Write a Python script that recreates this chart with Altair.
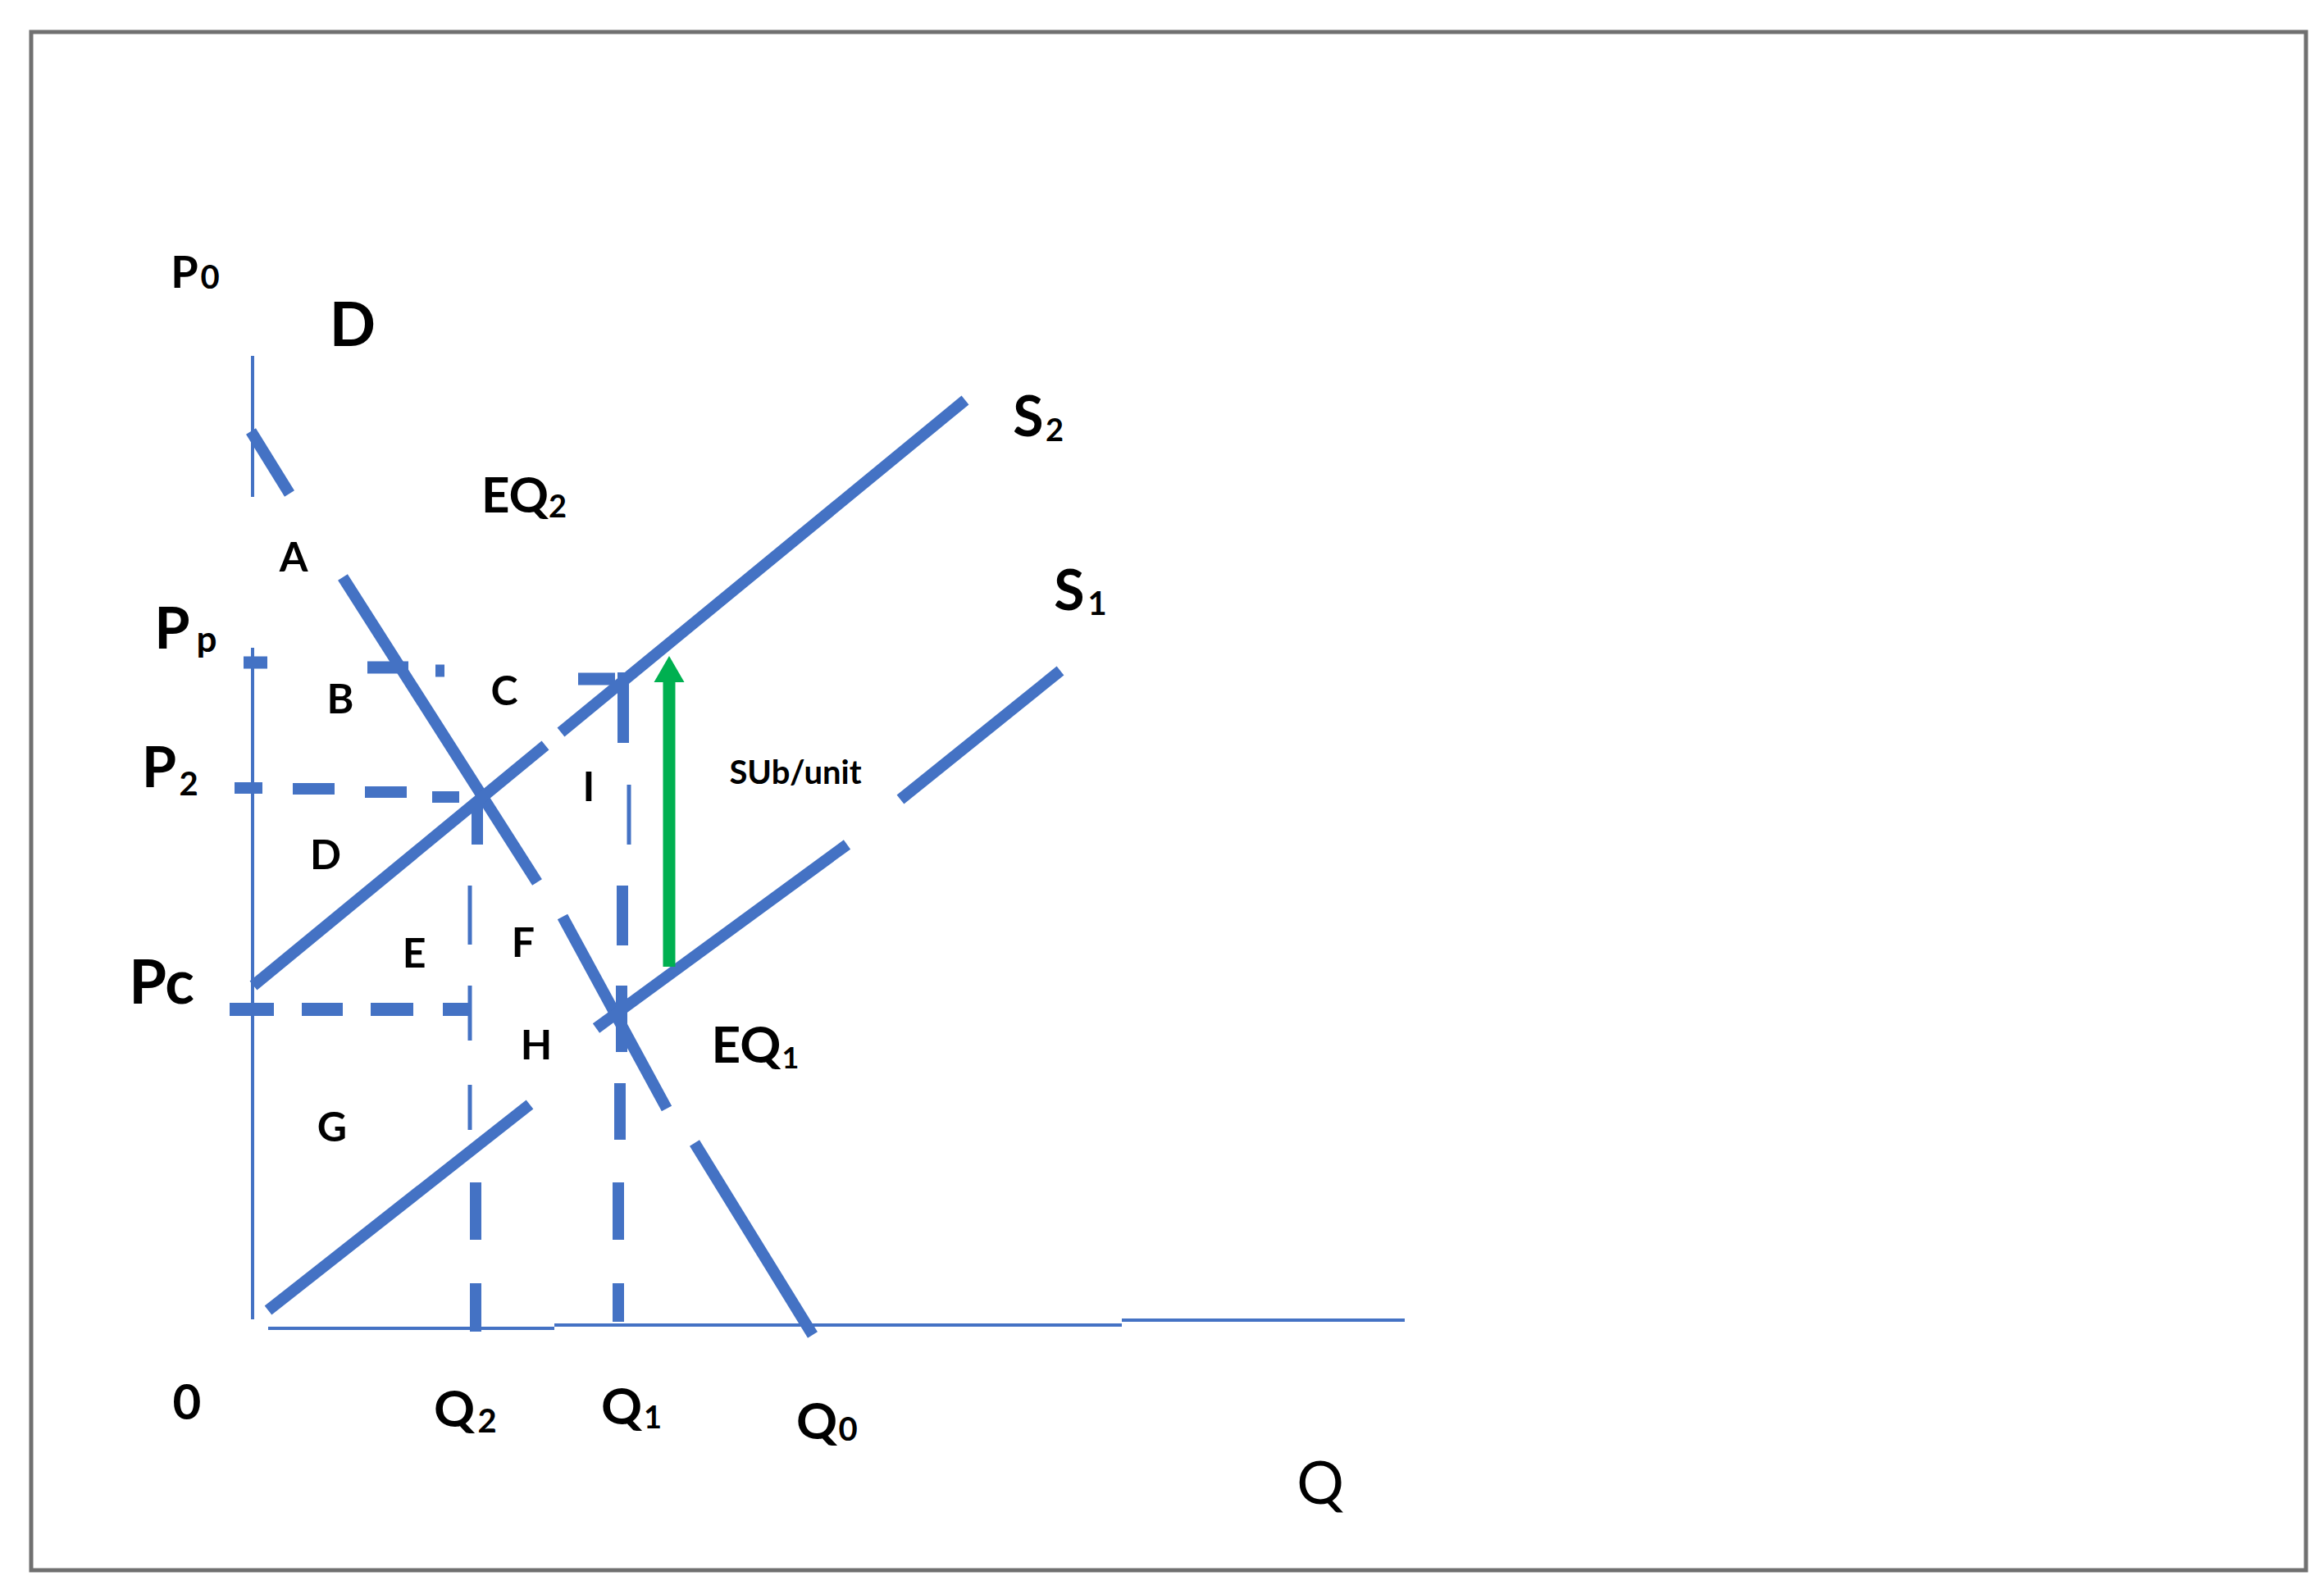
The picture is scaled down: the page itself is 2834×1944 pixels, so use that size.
import altair as alt
import pandas as pd

# ---------------- data (diagram units: Q along the bottom axis, P up the side axis) ----------------
# every visible piece of each drawn line: (Q start, P start, Q end, P end)
AXIS_Y = [(0, 1182, 0, 1010), (0, 826, 0, 7)]
AXIS_X = [(19, -4, 368, -4), (368, 0, 1060, 0), (1060, 6, 1405, 6)]
DEMAND = [(-2, 1090, 45, 1014), (110, 912, 347, 540), (378, 498, 505, 264), (539, 222, 683, -12)]
SUPPLY_2 = [(1, 414, 357, 707), (376, 723, 869, 1128)]
SUPPLY_1 = [(19, 18, 338, 269), (419, 362, 725, 586), (790, 641, 985, 798)]
PP_DASH = [(-11, 808, 18, 808), (140, 802, 190, 802), (223, 798, 234, 798), (397, 788, 442, 788)]
P2_DASH = [(-22, 655, 12, 655), (49, 654, 100, 654), (137, 650, 188, 650), (219, 644, 252, 644)]
PC_DASH = [(-28, 385, 26, 385), (60, 385, 110, 385), (144, 385, 196, 385), (232, 385, 265, 385)]
Q2_DASH_THICK = [(274, 636, 274, 586), (272, 174, 272, 104), (272, 51, 272, -8)]
Q2_DASH_THIN = [(265, 536, 265, 464), (265, 414, 265, 347), (265, 293, 265, 238)]
Q1_DASH_THICK = [(452, 796, 452, 710), (451, 536, 451, 463), (450, 414, 450, 333),
                 (448, 295, 448, 226), (446, 174, 446, 104), (446, 51, 446, 4)]
Q1_DASH_THIN = [(459, 659, 459, 586)]
SUBSIDY_SHAFT = [(508, 437, 508, 785)]
SUBSIDY_HEAD_Q = [508]
SUBSIDY_HEAD_P = [800]

# labels
MAIN_TEXT = ["P", "D", "EQ", "P", "P", "Pc", "EQ", "0", "Q", "Q", "Q", "S", "S"]
MAIN_Q = [-83, 122, 320, -98, -114, -111, 602, -80, 246, 450, 688, 946, 996]
MAIN_P = [1281, 1216, 1009, 846, 676, 414, 339, -97, -105, -102, -120, 1104, 892]

SUB_TEXT = ["0", "2", "p", "2", "1", "2", "1", "0", "2", "1"]
SUB_Q = [-52, 372, -56, -78, 656, 286, 488, 726, 978, 1030]
SUB_P = [1276, 996, 834, 658, 324, -119, -115, -129, 1089, 878]

AREA_TEXT = ["A", "B", "C", "D", "E", "F", "G", "H", "I"]
AREA_Q = [50, 107, 307, 89, 197, 330, 97, 346, 410]
AREA_P = [934, 761, 771, 571, 451, 464, 239, 339, 654]

NOTE_TEXT = ["SUb/unit"]
NOTE_Q = [662]
NOTE_P = [672]

AXIS_TITLE = ["Q"]
AXIS_TITLE_Q = [1302]
AXIS_TITLE_P = [-196]

# ---------------- styles ----------------
BLUE = "#4472C4"
GREEN = "#00B050"
MAIN_SIZES = [54, 74, 60, 70, 68, 74, 62, 60, 62, 62, 62, 68, 68]
SUB_SIZES = [40, 38, 44, 40, 36, 40, 38, 40, 38, 40]

groups = [
    (AXIS_Y, 4, BLUE), (AXIS_X, 4, BLUE),
    (DEMAND, 14, BLUE), (SUPPLY_2, 14, BLUE), (SUPPLY_1, 14, BLUE),
    (PP_DASH, 15, BLUE), (P2_DASH, 14, BLUE), (PC_DASH, 16, BLUE),
    (Q2_DASH_THICK, 14, BLUE), (Q2_DASH_THIN, 5, BLUE),
    (Q1_DASH_THICK, 14, BLUE), (Q1_DASH_THIN, 5, BLUE),
    (SUBSIDY_SHAFT, 15, GREEN),
]
rows = []
for segs, w, c in groups:
    for q1, p1, q2, p2 in segs:
        rows.append({"q": q1, "p": p1, "q2": q2, "p2": p2, "w": w, "c": c})
seg_df = pd.DataFrame(rows)

xs = alt.Scale(domain=[-270, 2504], nice=False, zero=False)
ys = alt.Scale(domain=[-299, 1577], nice=False, zero=False)

lines = alt.Chart(seg_df).mark_rule(strokeCap="butt").encode(
    x=alt.X("q:Q", scale=xs, axis=None),
    y=alt.Y("p:Q", scale=ys, axis=None),
    x2="q2:Q",
    y2="p2:Q",
    strokeWidth=alt.StrokeWidth("w:Q", scale=None),
    color=alt.Color("c:N", scale=None),
)

head = alt.Chart(pd.DataFrame({"q": SUBSIDY_HEAD_Q, "p": SUBSIDY_HEAD_P})).mark_point(
    shape="triangle-up", filled=True, size=1369, color=GREEN, opacity=1
).encode(
    x=alt.X("q:Q", scale=xs, axis=None),
    y=alt.Y("p:Q", scale=ys, axis=None),
)


def text_layer(texts, qs, ps, sizes, weight, font="Lato"):
    df = pd.DataFrame({"t": texts, "q": qs, "p": ps, "s": sizes})
    return alt.Chart(df).mark_text(
        font=font, fontWeight=weight, color="#000000", align="center", baseline="middle"
    ).encode(
        x=alt.X("q:Q", scale=xs, axis=None),
        y=alt.Y("p:Q", scale=ys, axis=None),
        text="t:N",
        size=alt.Size("s:Q", scale=None),
    )


main_lbl = text_layer(MAIN_TEXT, MAIN_Q, MAIN_P, MAIN_SIZES, "bold")
sub_lbl = text_layer(SUB_TEXT, SUB_Q, SUB_P, SUB_SIZES, "bold")
area_lbl = text_layer(AREA_TEXT, AREA_Q, AREA_P, [50] * len(AREA_TEXT), "bold")
note_lbl = text_layer(NOTE_TEXT, NOTE_Q, NOTE_P, [40], "bold")
axis_lbl = text_layer(AXIS_TITLE, AXIS_TITLE_Q, AXIS_TITLE_P, [72], "normal")

chart = alt.layer(lines, head, main_lbl, sub_lbl, area_lbl, note_lbl, axis_lbl).properties(
    width=2774,
    height=1876,
    padding={"left": 30, "top": 31, "right": 14, "bottom": 21},
    autosize=alt.AutoSizeParams(type="none"),
    background="white",
).configure_view(stroke="#707070", strokeWidth=5)

chart.save("out.html", embed_options={"renderer": "svg", "actions": False})
